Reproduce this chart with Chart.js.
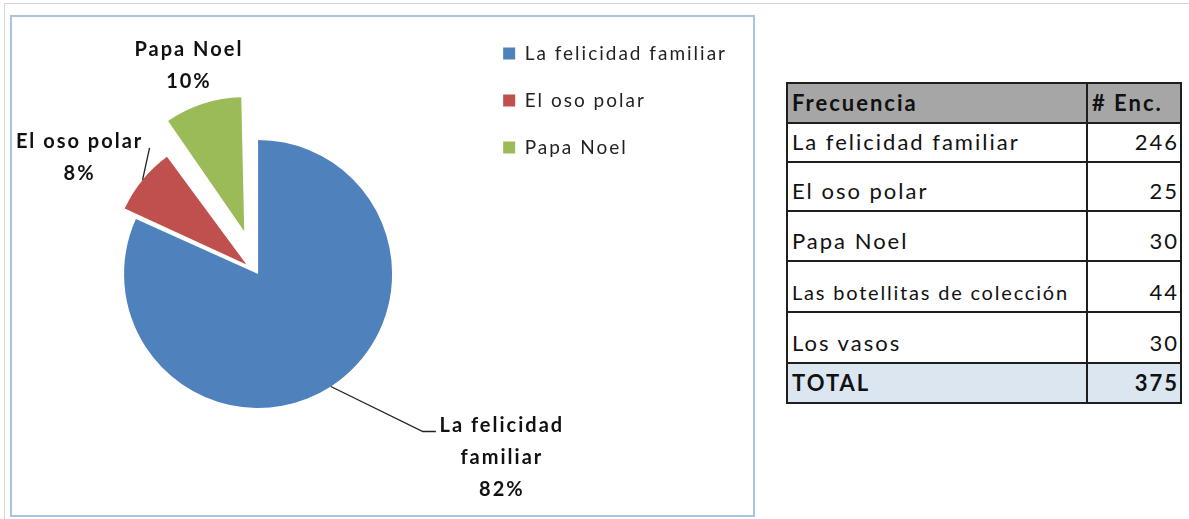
<!DOCTYPE html>
<html><head><meta charset="utf-8">
<script src="https://cdn.jsdelivr.net/npm/chart.js@4.4.1/dist/chart.umd.min.js"></script>
<style>
html,body{margin:0;padding:0;background:#fff;overflow:hidden;width:1189px;height:519px;font-family:Lato,"Open Sans",sans-serif;}
#sheet{position:absolute;left:4px;top:3px;width:1300px;height:600px;border-top:1px solid #d6d6d6;border-left:1px solid #d6d6d6;}
#frame{position:absolute;left:10px;top:15px;width:741px;height:498px;border:2px solid #a9c3e3;}
#wrap{position:absolute;left:11px;top:16px;width:743px;height:516px;}
#tbl{position:absolute;left:786px;top:82px;border-collapse:collapse;font-family:Lato,sans-serif;font-size:22px;letter-spacing:2px;color:#111;}
#tbl td{border:2px solid #1e1e1e;vertical-align:bottom;padding:0 2px 6px 4px;line-height:26px;white-space:nowrap;}
#tbl td.num{text-align:right;padding-right:1px;}
#tbl tr.head td{background:#a6a6a6;font-weight:bold;}
#tbl tr.total td{background:#dce6f1;font-weight:bold;}
</style></head>
<body>
<div id="sheet"></div>
<div id="frame"></div>
<div id="wrap"><canvas id="c" width="743" height="516"></canvas></div>
<table id="tbl"></table>
<script>
// ---- data ----
const categories = ["La felicidad familiar", "El oso polar", "Papa Noel"];
const values = [246, 25, 30];
const colors = ["#4F81BD", "#C0504D", "#9BBB59"];

const tableHeader = ["Frecuencia", "# Enc."];
const tableLabels = ["La felicidad familiar", "El oso polar", "Papa Noel", "Las botellitas de colección", "Los vasos"];
const tableValues = [246, 25, 30, 44, 30];
const totalLabel = "TOTAL";

// ---- styling: explosion (Chart.js offset units, drawn shift = offset/4) and labels ----
const sliceOffsets = [0, 60, 180];
const labelStyle = [
  {dx: 170, dy: 39, maxWidth: 140, leader: [[92, 45], [105, 45]]},
  {dx: -64, dy: -38, maxWidth: 180, leader: [[7, -32]]},
  {dx: -15, dy: -54, maxWidth: 180, leader: null}
];

// ---- table ----
(function buildTable(){
  const t = document.getElementById('tbl');
  const rowH = [40, 39, 49, 50, 51, 51, 40];
  let html = '<tr class="head" style="height:'+rowH[0]+'px"><td style="width:292px">'+tableHeader[0]+'</td><td style="width:86px">'+tableHeader[1]+'</td></tr>';
  tableLabels.forEach((l, i) => {
    const small = l.length > 24 ? ' style="font-size:20px;letter-spacing:1.8px"' : '';
    html += '<tr style="height:'+rowH[i+1]+'px"><td'+small+'>'+l+'</td><td class="num">'+tableValues[i]+'</td></tr>';
  });
  const total = tableValues.reduce((a,b)=>a+b,0);
  html += '<tr class="total" style="height:'+rowH[6]+'px"><td>'+totalLabel+'</td><td class="num">'+total+'</td></tr>';
  t.innerHTML = html;
})();

// growth of an exploded arc's radius in Chart.js' arc drawing
function radiusGrowth(arc) {
  const off = (arc.options.offset || 0) / 4;
  return off * (1 - Math.sin(Math.min(Math.PI, arc.circumference || 0)));
}

// keep exploded slices at the same radius as the rest
const keepRadius = {
  id: 'keepRadius',
  afterDatasetUpdate(chart, args) {
    const meta = chart.getDatasetMeta(args.index);
    meta.data.forEach(arc => {
      if (arc.$baseR === undefined || arc.outerRadius !== arc.$setR) {
        arc.$baseR = arc.outerRadius;
      }
      arc.outerRadius = arc.$baseR - radiusGrowth(arc);
      arc.$setR = arc.outerRadius;
    });
  }
};

// ---- letter spacing for legend text ----
const spacing = {
  id: 'spacing',
  beforeLayout(chart) { chart.ctx.letterSpacing = '2px'; },
  afterLayout(chart) { chart.ctx.letterSpacing = '0px'; },
  beforeDraw(chart) { chart.ctx.letterSpacing = '2px'; },
  beforeDatasetsDraw(chart) { chart.ctx.letterSpacing = '0px'; }
};

// ---- slice label plugin ----
const sliceLabels = {
  id: 'sliceLabels',
  afterDatasetsDraw(chart) {
    const ctx = chart.ctx;
    const meta = chart.getDatasetMeta(0);
    const data = chart.data.datasets[0].data;
    const total = data.reduce((a,b)=>a+b,0);
    ctx.save();
    ctx.font = 'bold 20px Lato, sans-serif';
    ctx.letterSpacing = '2px';
    ctx.fillStyle = '#111';
    ctx.textAlign = 'center';
    ctx.textBaseline = 'middle';
    meta.data.forEach((arc, i) => {
      const off = (arc.options.offset || 0) / 4;
      const mid = (arc.startAngle + arc.endAngle) / 2;
      const r = arc.outerRadius + radiusGrowth(arc) + off;
      const ax = arc.x + Math.cos(mid) * r, ay = arc.y + Math.sin(mid) * r;
      const st = labelStyle[i];
      if (st.leader) {
        ctx.beginPath();
        ctx.strokeStyle = '#222';
        ctx.lineWidth = 1.3;
        ctx.moveTo(ax, ay);
        st.leader.forEach(pt => ctx.lineTo(ax + pt[0], ay + pt[1]));
        ctx.stroke();
      }
      const words = chart.data.labels[i].split(' ');
      const lines = [];
      let cur = '';
      words.forEach(w => {
        const test = cur ? cur + ' ' + w : w;
        if (cur && ctx.measureText(test).width > st.maxWidth) { lines.push(cur); cur = w; }
        else cur = test;
      });
      lines.push(cur);
      lines.push(Math.round(data[i] / total * 100) + '%');
      lines.forEach((ln, k) => ctx.fillText(ln, ax + st.dx + 1, ay + st.dy + k * 32));
    });
    ctx.restore();
  }
};

const chart = new Chart(document.getElementById('c'), {
  type: 'pie',
  data: {
    labels: categories,
    datasets: [{
      data: values,
      backgroundColor: colors,
      borderWidth: 0,
      offset: sliceOffsets,
      radius: 134
    }]
  },
  options: {
    responsive: false,
    devicePixelRatio: 1,
    animation: false,
    events: [],
    layout: {padding: {left: 30, right: 17, top: 0, bottom: 0}},
    plugins: {
      tooltip: {enabled: false},
      legend: {
        position: 'right',
        align: 'start',
        labels: {
          boxWidth: 12, boxHeight: 12, padding: 28,
          color: '#222',
          font: {family: 'Lato, sans-serif', size: 19}
        }
      }
    }
  },
  plugins: [keepRadius, spacing, sliceLabels]
});
</script>
</body></html>
